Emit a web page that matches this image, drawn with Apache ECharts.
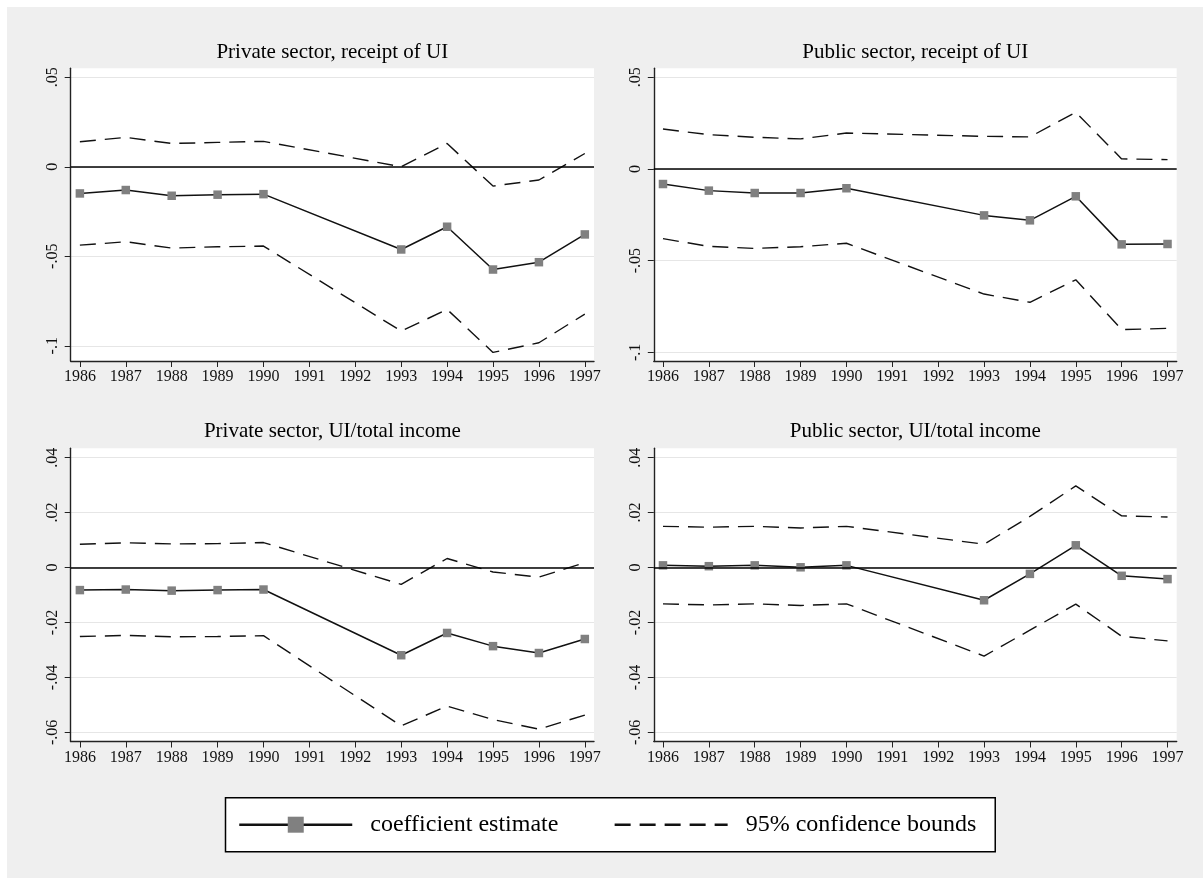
<!DOCTYPE html>
<html>
<head>
<meta charset="utf-8">
<script src="https://cdn.jsdelivr.net/npm/echarts@6/dist/echarts.min.js"></script>
<style>
html, body { margin: 0; padding: 0; background: #ffffff; }
#bg { position: absolute; left: 7px; top: 7px; width: 1196px; height: 871px; background: #efefef; }
#chart { position: absolute; left: 0; top: 0; width: 1203px; height: 878px; }
</style>
</head>
<body>
<div id="bg"></div>
<div id="chart"></div>
<script>
// ---------- data ----------
const years = [1986, 1987, 1988, 1989, 1990, 1993, 1994, 1995, 1996, 1997];
const xTicks = [1986, 1987, 1988, 1989, 1990, 1991, 1992, 1993, 1994, 1995, 1996, 1997];

const panelTitles = [
  'Private sector, receipt of UI',
  'Public sector, receipt of UI',
  'Private sector, UI/total income',
  'Public sector, UI/total income'
];

// Private sector, receipt of UI
const privRecCoef  = [-0.0149, -0.0130, -0.0162, -0.0156, -0.0153, -0.0462, -0.0335, -0.0574, -0.0533, -0.0378];
const privRecUpper = [0.0140, 0.0164, 0.0130, 0.0136, 0.0142, 0.0000, 0.0130, -0.0108, -0.0074, 0.0074];
const privRecLower = [-0.0438, -0.0419, -0.0454, -0.0447, -0.0443, -0.0918, -0.0797, -0.1037, -0.0983, -0.0823];

// Public sector, receipt of UI
const pubRecCoef  = [-0.0082, -0.0118, -0.0131, -0.0131, -0.0105, -0.0253, -0.0280, -0.0149, -0.0411, -0.0409];
const pubRecUpper = [0.0218, 0.0187, 0.0173, 0.0164, 0.0196, 0.0178, 0.0175, 0.0309, 0.0055, 0.0051];
const pubRecLower = [-0.0380, -0.0422, -0.0433, -0.0424, -0.0405, -0.0682, -0.0727, -0.0604, -0.0876, -0.0869];

// Private sector, UI/total income
const privShCoef  = [-0.0082, -0.0080, -0.0084, -0.0082, -0.0080, -0.0319, -0.0238, -0.0286, -0.0311, -0.0260];
const privShUpper = [0.0085, 0.0090, 0.0086, 0.0087, 0.0091, -0.0061, 0.0033, -0.0016, -0.0035, 0.0018];
const privShLower = [-0.0251, -0.0247, -0.0252, -0.0251, -0.0248, -0.0576, -0.0504, -0.0553, -0.0588, -0.0537];

// Public sector, UI/total income
const pubShCoef  = [0.0008, 0.0005, 0.0008, 0.0001, 0.0008, -0.0119, -0.0023, 0.0081, -0.0030, -0.0042];
const pubShUpper = [0.0150, 0.0147, 0.0150, 0.0144, 0.0150, 0.0085, 0.0186, 0.0297, 0.0188, 0.0184];
const pubShLower = [-0.0132, -0.0136, -0.0132, -0.0138, -0.0132, -0.0322, -0.0228, -0.0133, -0.0250, -0.0267];

const yTicksReceipt = [-0.1, -0.05, 0, 0.05];
const yTicksShare = [-0.06, -0.04, -0.02, 0, 0.02, 0.04];

const legendNames = ['coefficient estimate', '95% confidence bounds'];

// ---------- layout / style ----------
const FONT = '"Liberation Serif", "Times New Roman", serif';
const grids = [
  { left: 70.7, top: 68.3, width: 523.3, height: 292.7 },
  { left: 653.8, top: 68.3, width: 522.9, height: 292.7 },
  { left: 70.7, top: 448.3, width: 523.3, height: 293.2 },
  { left: 653.8, top: 448.3, width: 522.9, height: 293.2 }
];
const yRanges = [
  [-0.1085, 0.0550],
  [-0.1047, 0.0549],
  [-0.0633, 0.0434],
  [-0.0633, 0.0434]
];
const yTickSets = [yTicksReceipt, yTicksReceipt, yTicksShare, yTicksShare];
const titleY = [52, 52, 431, 431];
const panelData = [
  [privRecCoef, privRecUpper, privRecLower],
  [pubRecCoef, pubRecUpper, pubRecLower],
  [privShCoef, privShUpper, privShLower],
  [pubShCoef, pubShUpper, pubShLower]
];

function stataFmt(v) {
  if (Math.abs(v) < 1e-9) return '0';
  let s = String(+v.toFixed(3));
  return s.replace('0.', '.');
}
function pairs(vals) { return years.map((y, i) => [y, vals[i]]); }

const AX = '#222';
const xAxes = [], yAxes = [], series = [], graphics = [];

grids.forEach((g, i) => {
  xAxes.push({
    type: 'value', gridIndex: i, min: 1985.8, max: 1997.2,
    axisLine: { show: true, onZero: false, lineStyle: { color: AX, width: 1.4 } },
    axisTick: { show: true, length: 6, customValues: xTicks, lineStyle: { color: AX, width: 1 } },
    axisLabel: { customValues: xTicks, margin: 8, color: '#111', fontFamily: FONT, fontSize: 16,
                 formatter: v => String(Math.round(v)) },
    splitLine: { show: false }
  });
  yAxes.push({
    type: 'value', gridIndex: i, min: yRanges[i][0], max: yRanges[i][1],
    axisLine: { show: true, onZero: false, lineStyle: { color: AX, width: 1.4 } },
    axisTick: { show: true, length: 6, customValues: yTickSets[i], lineStyle: { color: AX, width: 1 } },
    axisLabel: { customValues: yTickSets[i], rotate: 90, margin: 10, color: '#111', fontFamily: FONT, fontSize: 16,
                 formatter: v => stataFmt(v) },
    splitLine: { show: true, lineStyle: { color: '#e6e6e6', width: 1.2 } }
  });
  const [coef, up, lo] = panelData[i];
  series.push({
    name: legendNames[1], type: 'line', xAxisIndex: i, yAxisIndex: i,
    data: pairs(up), symbol: 'none', itemStyle: { color: 'rgba(0,0,0,0)' },
    lineStyle: { color: '#111', width: 1.4, type: [16, 9] }, z: 3,
    markLine: { silent: true, symbol: ['none', 'none'], label: { show: false },
                lineStyle: { color: '#000', width: 1.6, type: 'solid' }, data: [{ yAxis: 0 }] }
  });
  series.push({
    name: legendNames[1], type: 'line', xAxisIndex: i, yAxisIndex: i,
    data: pairs(lo), symbol: 'none', itemStyle: { color: 'rgba(0,0,0,0)' },
    lineStyle: { color: '#111', width: 1.4, type: [16, 9] }, z: 3
  });
  series.push({
    name: legendNames[0], type: 'line', xAxisIndex: i, yAxisIndex: i,
    data: pairs(coef), symbol: 'rect', symbolSize: 8.5, showSymbol: true,
    itemStyle: { color: '#808080' },
    lineStyle: { color: '#111', width: 1.5 }, z: 4
  });
  graphics.push({
    type: 'text', x: g.left + g.width / 2, y: titleY[i], silent: true,
    style: { text: panelTitles[i], fill: '#000', font: '21px ' + FONT, align: 'center', verticalAlign: 'middle' }
  });
});

const chart = echarts.init(document.getElementById('chart'), null, { renderer: 'canvas' });
chart.setOption({
  animation: false,
  backgroundColor: 'transparent',
  grid: grids.map(g => Object.assign({ show: true, backgroundColor: '#ffffff', borderWidth: 0 }, g)),
  xAxis: xAxes,
  yAxis: yAxes,
  series: series,
  graphic: graphics,
  legend: {
    data: legendNames,
    left: 225.5, top: 797.7,
    orient: 'horizontal',
    padding: [15, 19, 15, 12.5],
    itemGap: 55,
    itemWidth: 113, itemHeight: 20,
    backgroundColor: '#ffffff', borderColor: '#000', borderWidth: 1.5, borderRadius: 0,
    lineStyle: { width: 2.5 },
    selectedMode: false,
    textStyle: { fontFamily: FONT, fontSize: 24, color: '#000', padding: [0, 0, 0, 13] }
  }
});
</script>
</body>
</html>
